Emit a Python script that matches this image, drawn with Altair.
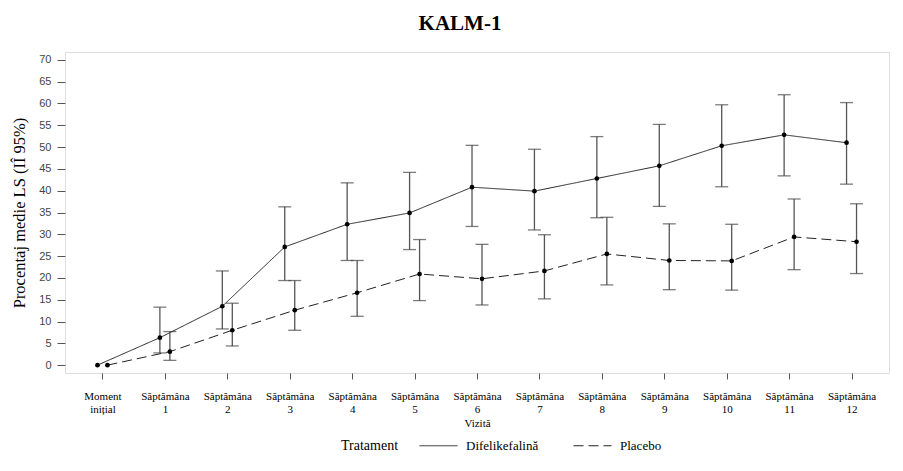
import altair as alt
import pandas as pd
import json

visits = [0, 1, 2, 3, 4, 5, 6, 7, 8, 9, 10, 11, 12]
visit_labels = [["Moment", "inițial"], ["Săptămâna", "1"], ["Săptămâna", "2"], ["Săptămâna", "3"],
                ["Săptămâna", "4"], ["Săptămâna", "5"], ["Săptămâna", "6"], ["Săptămâna", "7"],
                ["Săptămâna", "8"], ["Săptămâna", "9"], ["Săptămâna", "10"], ["Săptămâna", "11"],
                ["Săptămâna", "12"]]
groups = ["Difelikefalină", "Placebo"]
y_ticks = [0, 5, 10, 15, 20, 25, 30, 35, 40, 45, 50, 55, 60, 65, 70]

dif_mean = [0, 6.3, 13.5, 27.1, 32.3, 34.9, 40.8, 39.9, 42.8, 45.7, 50.3, 52.8, 51.0]
dif_lo = [None, 2.8, 8.3, 19.4, 24.0, 26.5, 31.8, 31.0, 33.8, 36.4, 40.9, 43.4, 41.5]
dif_hi = [None, 13.3, 21.6, 36.3, 41.8, 44.2, 50.4, 49.5, 52.4, 55.2, 59.7, 62.0, 60.2]
pla_mean = [0, 3.1, 8.0, 12.6, 16.6, 20.9, 19.8, 21.6, 25.5, 24.0, 23.9, 29.4, 28.3]
pla_lo = [None, 1.1, 4.4, 8.0, 11.2, 14.8, 13.8, 15.2, 18.4, 17.3, 17.2, 21.9, 21.0]
pla_hi = [None, 7.7, 14.2, 19.4, 24.0, 28.8, 27.7, 29.9, 33.9, 32.4, 32.3, 38.1, 37.0]

rows = []
for g, m, lo, hi in [(groups[0], dif_mean, dif_lo, dif_hi), (groups[1], pla_mean, pla_lo, pla_hi)]:
    for v, mm, l, h in zip(visits, m, lo, hi):
        rows.append({"visit": v, "group": g, "mean": mm, "lo": l, "hi": h})
df = pd.DataFrame(rows)

SERIF = "Liberation Serif"
SANS = "Liberation Sans"

label_expr = json.dumps(visit_labels, ensure_ascii=False) + "[datum.value]"

base = alt.Chart(df).transform_calculate(
    xpos="datum.visit + (datum.group == 'Difelikefalină' ? -0.08 : 0.08)"
)

x_enc = alt.X(
    "xpos:Q",
    scale=alt.Scale(domain=[-0.6, 12.6], nice=False, zero=False),
    axis=alt.Axis(
        values=visits, labelExpr=label_expr, title="Vizită", grid=False, domain=False,
        tickSize=6, tickColor="#555", labelFont=SERIF, labelFontSize=11, labelColor="#000",
        labelPadding=11, labelOverlap=False, labelFlush=False, labelLineHeight=13,
        titleFont=SERIF, titleFontSize=11, titleFontWeight="normal", titleColor="#000",
        titlePadding=3,
    ),
)
y_scale = alt.Scale(domain=[-1.8, 71.8], nice=False, zero=False)
y_axis = alt.Axis(
    values=y_ticks, title="Procentaj medie LS (IÎ 95%)", grid=False, domain=False,
    tickSize=8, tickColor="#555", labelFont=SANS, labelFontSize=11, labelColor="#444",
    labelPadding=6, labelOverlap=False, labelFlush=False, titleFont=SERIF, titleFontSize=16.5,
    titleFontWeight="normal", titleColor="#000", titlePadding=11,
)

line = base.mark_line(color="#222", strokeWidth=1).encode(
    x=x_enc,
    y=alt.Y("mean:Q", scale=y_scale, axis=y_axis),
    strokeDash=alt.StrokeDash(
        "group:N",
        scale=alt.Scale(domain=groups, range=[[1, 0], [10, 5]]),
        legend=alt.Legend(
            title="Tratament", orient="none", legendX=276, legendY=374, direction="horizontal",
            titleOrient="left", titleAnchor="middle", titleBaseline="top",
            titleFont=SERIF, titleFontSize=14, titleFontWeight="normal",
            titleColor="#000", titlePadding=20, labelFont=SERIF, labelFontSize=13,
            labelColor="#000", symbolType="stroke", symbolSize=1444, symbolStrokeWidth=1,
            symbolStrokeColor="#222", labelOffset=8, columnPadding=32,
        ),
    ),
    detail="group:N",
)

err = base.transform_filter("datum.lo != null").mark_rule(color="#555", strokeWidth=1.3).encode(
    x=x_enc, y=alt.Y("lo:Q", scale=y_scale, axis=y_axis), y2="hi:Q"
)
cap_lo = base.transform_filter("datum.lo != null").mark_tick(
    orient="horizontal", color="#444", size=13, thickness=1.3
).encode(x=x_enc, y=alt.Y("lo:Q", scale=y_scale, axis=y_axis))
cap_hi = base.transform_filter("datum.hi != null").mark_tick(
    orient="horizontal", color="#444", size=13, thickness=1.3
).encode(x=x_enc, y=alt.Y("hi:Q", scale=y_scale, axis=y_axis))

pts = base.mark_circle(color="#000", size=22, opacity=1).encode(
    x=x_enc, y=alt.Y("mean:Q", scale=y_scale, axis=y_axis)
)

chart = alt.layer(err, cap_lo, cap_hi, line, pts).properties(
    width=824, height=321,
    title=alt.TitleParams("KALM-1", font=SERIF, fontSize=21, fontWeight="bold", color="#000",
                          anchor="middle", dx=-17, offset=18),
    autosize=alt.AutoSizeParams(type="none"),
    padding={"left": 65, "top": 52, "right": 14, "bottom": 98},
).configure_view(stroke="#555", strokeWidth=1.2).configure(background="white")

chart.save("out.html", embed_options={"renderer": "svg", "actions": False})
